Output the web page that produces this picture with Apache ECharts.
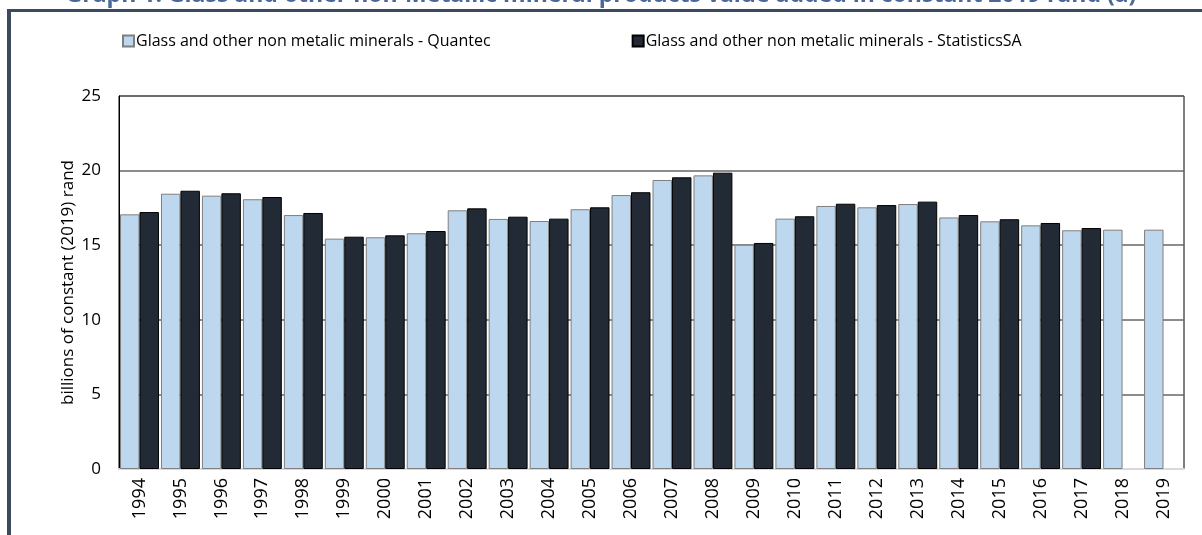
<!DOCTYPE html>
<html>
<head>
<meta charset="utf-8">
<script src="https://cdn.jsdelivr.net/npm/echarts@6/dist/echarts.min.js"></script>
<style>
  html, body { margin: 0; padding: 0; background: #fff; }
  #main { width: 1202px; height: 535px; }
</style>
</head>
<body>
<div id="main"></div>
<script>
// data
var years = ['1994', '1995', '1996', '1997', '1998', '1999', '2000', '2001', '2002', '2003', '2004', '2005', '2006',
	'2007', '2008', '2009', '2010', '2011', '2012', '2013', '2014', '2015', '2016', '2017', '2018', '2019'];
var quantec = [17.07, 18.45, 18.32, 18.08, 17.02, 15.44, 15.53, 15.80, 17.34, 16.76, 16.62, 17.41, 18.36,
	19.37, 19.68, 15.03, 16.78, 17.63, 17.54, 17.76, 16.86, 16.60, 16.33, 16.00, 16.04, 16.04];
var statsSA = [17.22, 18.65, 18.48, 18.23, 17.16, 15.57, 15.66, 15.95, 17.47, 16.91, 16.78, 17.54, 18.55,
	19.55, 19.86, 15.15, 16.94, 17.78, 17.69, 17.92, 17.02, 16.74, 16.49, 16.15, null, null];

var font = 'Open Sans';

var myChart = echarts.init(document.getElementById('main'));

var option = {
	backgroundColor: '#fff',
	animation: false,
	textStyle: { fontFamily: font },
	graphic: [
		{
			type: 'text',
			left: 'center',
			top: -16,
			style: {
				text: 'Graph 1: Glass and other non-Metallic mineral products value added in constant 2019 rand (a)',
				font: 'bold 23px ' + font,
				fill: '#4a6896'
			}
		},
		{ type: 'rect', shape: { x: 7, y: 9, width: 1195, height: 3 }, style: { fill: '#3b4a5e' } },
		{ type: 'rect', shape: { x: 7, y: 9, width: 4, height: 526 }, style: { fill: '#3b4a5e' } }
	],
	legend: {
		left: 117,
		top: 28,
		itemWidth: 11,
		itemHeight: 11,
		itemGap: 141,
		icon: 'rect',
		textStyle: { fontFamily: font, fontSize: 16, color: '#000', padding: [0, 0, 0, -3] },
		data: ['Glass and other non metalic minerals - Quantec', 'Glass and other non metalic minerals - StatisticsSA']
	},
	grid: {
		left: 119,
		right: 18,
		top: 96,
		bottom: 66,
		show: true,
		borderColor: '#000',
		borderWidth: 1
	},
	xAxis: {
		type: 'category',
		data: years,
		axisLine: { lineStyle: { color: '#d9d9d9', width: 2 } },
		axisTick: { show: false },
		axisLabel: { rotate: 90, color: '#000', fontSize: 18, margin: 9, fontFamily: font }
	},
	yAxis: {
		type: 'value',
		min: 0,
		max: 25,
		interval: 5,
		name: 'billions of constant (2019) rand',
		nameLocation: 'middle',
		nameGap: 42,
		nameMoveOverlap: false,
		nameTextStyle: { color: '#000', fontSize: 17, fontFamily: font },
		axisLine: { show: true, lineStyle: { color: '#000' } },
		axisTick: { show: false },
		axisLabel: { color: '#000', fontSize: 17, margin: 18, fontFamily: font },
		splitLine: { lineStyle: { color: '#666', width: 1.5 } }
	},
	series: [
		{
			name: 'Glass and other non metalic minerals - Quantec',
			type: 'bar',
			data: quantec,
			barGap: '0%',
			barCategoryGap: '5%',
			itemStyle: { color: '#bdd7ee', borderColor: '#7f7f7f', borderWidth: 1 }
		},
		{
			name: 'Glass and other non metalic minerals - StatisticsSA',
			type: 'bar',
			data: statsSA,
			itemStyle: { color: '#222a35', borderColor: '#000', borderWidth: 1 }
		}
	]
};
myChart.setOption(option);
</script>
</body>
</html>
